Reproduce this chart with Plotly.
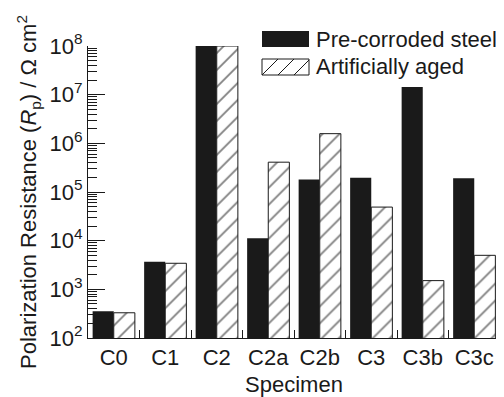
import plotly.graph_objects as go

categories = ["C0", "C1", "C2", "C2a", "C2b", "C3", "C3b", "C3c"]
pre_corroded = [355, 3700, 1.0e8, 11200, 180000, 197000, 1.43e7, 191000]
artificially_aged = [330, 3430, 1.0e8, 410000, 1.58e6, 49000, 1510, 5000]
series_names = ["Pre-corroded steel", "Artificially aged"]
y_tickvals = [1e2, 1e3, 1e4, 1e5, 1e6, 1e7, 1e8]
y_ticktext = ["10<sup>2</sup>", "10<sup>3</sup>", "10<sup>4</sup>", "10<sup>5</sup>",
              "10<sup>6</sup>", "10<sup>7</sup>", "10<sup>8</sup>"]

# page body has an 8px margin; size the figure so screen positions match
OFF = 8
W, H = 504 - OFF, 397 - OFF
L, R, T, B = 88 - OFF, 4, 46 - OFF, 59
PW, PH = W - L - R, H - T - B
FONT = "Liberation Sans, Arial, Helvetica, sans-serif"
FS = 22

def px(x):
    # x in screen pixels
    return (x - OFF - L) / PW

def py(y):
    return (H - B - (y - OFF)) / PH

fig = go.Figure()
fig.add_trace(go.Bar(
    x=categories, y=pre_corroded, name=series_names[0],
    marker=dict(color="#1a1a1a", line=dict(width=0)),
    showlegend=False,
))
fig.add_trace(go.Bar(
    x=categories, y=artificially_aged, name=series_names[1],
    marker=dict(color="white", line=dict(width=1, color="#1a1a1a"),
                pattern=dict(shape="/", fgcolor="#000000", bgcolor="white",
                             size=12, solidity=0.15)),
    showlegend=False,
))

minor_vals = [m * 10 ** e for e in range(2, 8) for m in range(2, 10)]

fig.update_layout(
    width=W, height=H,
    margin=dict(l=L, r=R, t=T, b=B, pad=0),
    paper_bgcolor="white", plot_bgcolor="white",
    font=dict(family=FONT, size=FS, color="#1a1a1a"),
    barmode="group", bargap=0.18, bargroupgap=0,
    xaxis=dict(
        type="category", range=[-0.5, 7.5], automargin=False,
        showline=True, linecolor="#1a1a1a", linewidth=1,
        ticks="inside", tickson="boundaries", ticklen=8, tickcolor="#1a1a1a",
        showgrid=False, zeroline=False,
        tickfont=dict(size=FS),
        title=dict(text="Specimen", font=dict(size=FS), standoff=7),
    ),
    yaxis=dict(
        type="log", range=[2, 8], automargin=False,
        showline=True, linecolor="#1a1a1a", linewidth=1,
        ticks="inside", ticklen=17, tickcolor="#1a1a1a",
        tickvals=y_tickvals, ticktext=y_ticktext,
        showgrid=False, zeroline=False,
        tickfont=dict(size=FS),
        minor=dict(ticks="inside", ticklen=9, tickcolor="#1a1a1a",
                   tickvals=minor_vals, showgrid=False),
        title=dict(text="Polarization Resistance (<i>R</i><sub>p</sub>) / Ω cm<sup>2</sup>",
                   font=dict(size=FS), standoff=6),
    ),
)

# custom legend keys (screen pixel positions)
shapes = []
kx0, kx1 = 262, 309
rows = [(31, 47), (59, 75)]
shapes.append(dict(type="rect", xref="paper", yref="paper",
                   x0=px(kx0), x1=px(kx1), y0=py(rows[0][1]), y1=py(rows[0][0]),
                   fillcolor="#1a1a1a", line=dict(width=0)))
ty, by = rows[1]
shapes.append(dict(type="rect", xref="paper", yref="paper",
                   x0=px(kx0), x1=px(kx1), y0=py(by), y1=py(ty),
                   fillcolor="white", line=dict(width=1, color="#1a1a1a")))
h = by - ty
step = 16
start = kx0 - h
while start < kx1:
    xa, ya = start, by
    xb, yb = start + h, ty
    if xa < kx0:
        ya = by - (kx0 - xa)
        xa = kx0
    if xb > kx1:
        yb = ty + (xb - kx1)
        xb = kx1
    if xb > xa:
        shapes.append(dict(type="line", xref="paper", yref="paper",
                           x0=px(xa), y0=py(ya), x1=px(xb), y1=py(yb),
                           line=dict(width=1, color="#1a1a1a")))
    start += step
fig.update_layout(shapes=shapes)

for name, (t0, t1) in zip(series_names, rows):
    fig.add_annotation(xref="paper", yref="paper", x=px(314), y=py((t0 + t1) / 2),
                       text=name, showarrow=False, xanchor="left", yanchor="middle",
                       font=dict(size=FS, family=FONT, color="#1a1a1a"))

fig.write_html("out.html")
